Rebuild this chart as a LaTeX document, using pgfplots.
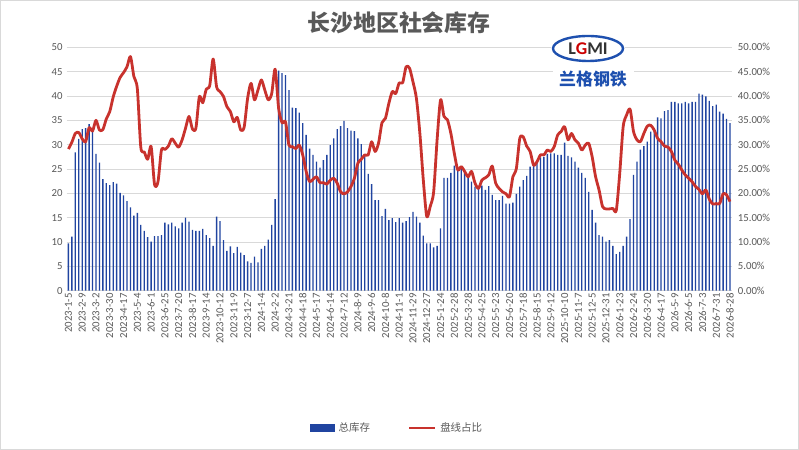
\documentclass[border=0pt]{standalone}
\usepackage{pgfplots}
\usepackage{pgfplotstable}
\pgfplotsset{compat=1.18}
\usepackage{fontspec}
\setmainfont{Carlito}
\newfontfamily\cjk{Noto Sans CJK SC}
\definecolor{barblue}{RGB}{32,68,160}
\definecolor{linered}{RGB}{200,50,45}
\definecolor{labelgray}{RGB}{89,89,89}
\definecolor{gridgray}{RGB}{217,217,217}
\definecolor{logoblue}{RGB}{30,80,175}

\pgfplotstableread{
v p
9.7 29.1
11.1 30.5
28.4 32.3
31.2 32.5
33.2 31.2
33.4 30.6
34.2 33.5
33.0 32.8
28.1 35.0
26.3 33.0
22.9 33.1
22.1 35.3
21.7 36.8
22.3 39.8
22.0 42.0
20.1 43.8
19.6 44.8
18.4 46.0
17.1 48.1
15.4 44.0
16.0 41.5
13.5 29.5
12.3 28.5
11.0 27.0
10.1 29.6
11.2 21.8
11.2 22.4
11.4 28.9
14.0 29.0
13.6 29.7
14.0 31.2
13.2 30.3
12.8 29.5
14.0 31.0
15.0 33.4
14.2 35.8
12.5 33.2
12.3 33.4
12.3 39.9
12.7 38.6
11.4 41.4
10.8 42.1
9.2 47.6
15.2 41.9
14.3 40.9
10.4 39.9
8.2 37.8
9.1 36.8
7.7 34.7
9.0 35.6
7.8 33.0
7.3 33.6
6.0 39.5
5.7 42.6
7.0 39.2
5.8 41.2
8.6 43.3
9.2 41.2
10.5 39.2
13.5 40.5
18.8 45.5
45.2 37.5
44.7 34.5
44.3 34.7
41.2 29.9
37.6 29.6
37.5 29.2
36.6 29.9
34.4 27.9
32.0 24.5
29.2 22.4
27.9 22.9
26.5 23.4
25.3 22.2
26.8 22.2
27.9 21.9
29.9 22.7
31.3 23.1
33.2 22.1
33.8 20.3
34.9 19.9
33.4 20.3
32.9 21.4
32.8 23.1
31.3 26.2
30.1 27.0
27.7 27.9
24.0 27.9
21.9 30.6
18.6 28.6
18.6 30.3
15.3 34.5
16.8 35.4
14.5 38.5
14.9 40.9
14.1 40.5
14.9 42.7
14.0 42.7
14.3 46.0
15.1 45.7
16.2 42.9
15.2 39.5
14.0 32.3
11.3 22.7
9.7 15.2
9.7 17.3
8.9 20.3
9.2 31.0
12.8 39.2
23.2 35.8
23.2 35.1
24.2 32.3
25.7 28.2
25.3 24.8
25.6 25.5
24.6 24.5
23.4 23.4
22.4 24.5
21.4 22.1
20.9 21.0
21.6 22.7
20.7 23.2
21.5 23.8
19.7 25.6
18.6 22.1
18.6 21.0
19.5 20.3
17.9 19.9
17.9 19.3
18.1 23.4
19.9 25.1
21.4 31.3
22.7 31.6
23.6 29.7
25.5 28.6
25.6 25.8
26.5 26.5
27.4 27.9
27.5 27.9
28.1 28.9
28.2 28.6
28.2 29.6
27.9 32.0
27.9 32.7
30.4 33.7
27.7 31.0
27.4 32.3
26.5 31.0
25.3 30.3
24.2 28.9
23.2 29.9
20.3 30.3
16.6 27.5
14.0 23.4
11.4 20.7
11.1 17.3
10.1 16.8
10.4 16.8
9.2 16.9
7.5 16.5
8.0 24.1
9.2 33.7
11.1 36.1
14.7 37.3
23.8 32.7
26.5 31.0
29.0 30.6
29.7 32.3
30.6 33.8
32.7 34.0
33.4 33.0
35.6 31.3
35.4 30.6
36.9 29.7
37.1 29.5
38.8 28.6
38.8 26.8
38.5 26.0
38.5 24.8
38.8 23.8
38.5 23.1
38.8 22.4
38.8 21.4
40.5 20.8
40.3 19.9
39.9 20.7
39.0 18.8
37.9 17.8
38.2 17.9
36.8 17.9
36.4 19.9
35.3 19.7
34.4 18.3
}\datatable

\begin{document}
\begin{tikzpicture}
\path[use as bounding box] (0,0) rectangle (799bp,450bp);
\fill[white] (0,0) rectangle (799bp,450bp);
\draw[gridgray, line width=0.8bp] (0.4bp,0.4bp) rectangle (798.6bp,449.6bp);

\pgfplotsset{
  common/.style={
    scale only axis,
    width=665bp, height=243.4bp,
    at={(66.7bp,159.3bp)}, anchor=south west,
    xmin=-0.5, xmax=192.5,
    ymin=0, ymax=50,
    ytick={0,5,...,50},
    major tick length=0pt,
    tick label style={font=\fontsize{10.8}{12}\selectfont, text=labelgray},
    /pgf/number format/assume math mode=true,
  }
}

\begin{axis}[common,
  axis lines*=left,
  y axis line style={draw=none},
  x axis line style={draw=gridgray, line width=0.8bp},
  ymajorgrids,
  grid style={gridgray, line width=0.8bp},
  xtick={0,4,...,192},
  xticklabels={2023-1-5,2023-2-9,2023-3-2,2023-3-30,2023-4-17,2023-5-4,2023-6-1,2023-6-25,2023-7-20,2023-8-17,2023-9-14,2023-10-12,2023-11-9,2023-12-7,2024-1-4,2024-2-2,2024-3-21,2024-4-18,2024-5-17,2024-6-14,2024-7-12,2024-8-9,2024-9-6,2024-10-8,2024-11-1,2024-11-29,2024-12-27,2025-1-24,2025-2-28,2025-3-28,2025-4-25,2025-5-23,2025-6-20,2025-7-18,2025-8-15,2025-9-12,2025-10-10,2025-11-7,2025-12-5,2025-12-31,2026-1-23,2026-2-24,2026-3-20,2026-4-17,2026-5-9,2026-6-5,2026-7-3,2026-7-31,2026-8-28},
  xticklabel style={rotate=90, anchor=east, inner sep=2.5pt},
  yticklabel style={inner sep=4pt},
]
\addplot[ybar, bar width=1.35bp, bar shift=0pt, fill=barblue, draw=none]
  table[x expr=\coordindex, y=v] {\datatable};
\end{axis}

\begin{axis}[common,
  axis y line*=right,
  axis x line=none,
  y axis line style={draw=none},
  yticklabel={\pgfmathprintnumber[fixed,fixed zerofill,precision=2]{\tick}\%},
  yticklabel style={inner sep=0pt, xshift=6bp, anchor=west},
  legend columns=2,
  legend cell align=left,
  legend style={at={(0.497,-0.564)}, anchor=center, draw=none, fill=none,
    font=\cjk\fontsize{10.5}{12}\selectfont, text=labelgray,
    /tikz/every even column/.append style={column sep=36bp},
    /tikz/every odd column/.append style={column sep=2bp}},
]
\addlegendimage{legend image code/.code={\fill[barblue] (0bp,-3.5bp) rectangle (24bp,3.5bp);}}
\addlegendentry{总库存}
\addplot[linered, line width=2.8bp, smooth, tension=0.45, no markers, line join=round,
  legend image code/.code={\draw[linered, line width=2.2bp] (0bp,0bp) -- (26bp,0bp);}]
  table[x expr=\coordindex, y=p] {\datatable};
\addlegendentry{盘线占比}
\end{axis}

% title
\node[text=labelgray, font=\cjk\bfseries\fontsize{23}{26}\selectfont] at (399bp,427.5bp) {长沙地区社会库存};

% logo
\fill[white] (588bp,401.5bp) ellipse (37bp and 14bp);
\draw[logoblue, line width=2.4bp] (588bp,401.5bp) ellipse (35bp and 12.5bp);
\node[font=\bfseries\fontsize{18}{18}\selectfont, text=black!80] at (588bp,401.5bp) {L\textcolor{red!80!black}{G}MI};
\fill[white] (553bp,361bp) rectangle (634bp,381bp);
\node[font=\cjk\bfseries\fontsize{17}{18}\selectfont, text=logoblue] at (593bp,370.5bp) {兰格钢铁};
\end{tikzpicture}
\end{document}
